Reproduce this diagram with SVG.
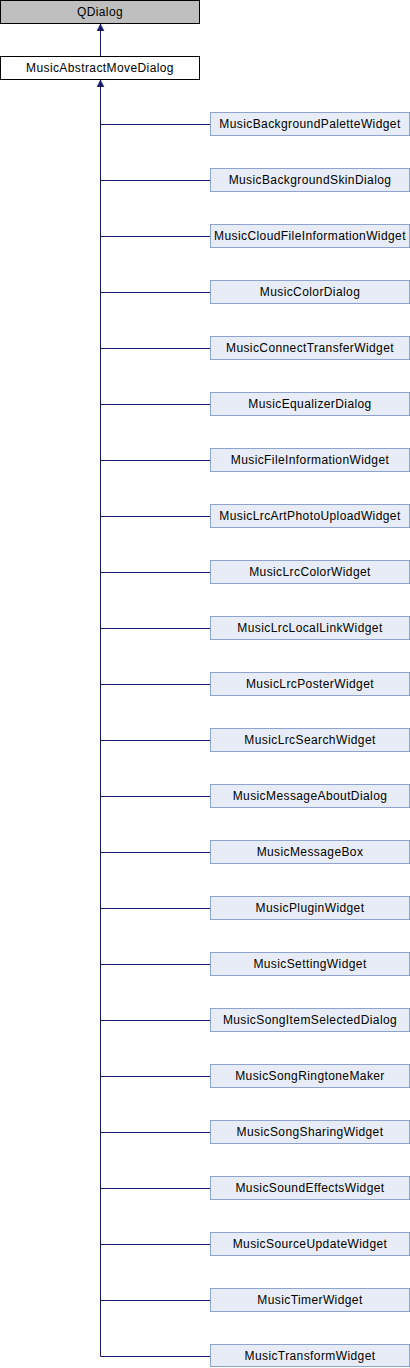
<svg xmlns="http://www.w3.org/2000/svg" width="410" height="1368" viewBox="0 0 410 1368">
<style>
.n rect{stroke-width:1}
.base rect{fill:#bfbfbf;stroke:#000}
.par rect{fill:#fff;stroke:#000}
.ch rect{fill:#e8ecf7;stroke:#8ea4cf}
text{font-family:"Liberation Sans",Arial,sans-serif;font-size:12px;letter-spacing:0.4px;text-anchor:middle;fill:#000}
.e{stroke:#191970;stroke-width:1;fill:none}
</style>
<defs>
<marker id="ah" markerWidth="8" markerHeight="8" refX="7" refY="3.5" orient="auto" markerUnits="userSpaceOnUse">
<path d="M0,0 L7,3.5 L0,7 Z" fill="#191970" stroke="#191970" stroke-width="0.5"/>
</marker>
</defs>
<g id="connectors">
<path class="e" d="M100.5,56 V24" marker-end="url(#ah)"/>
<path class="e" d="M100.5,1356.5 V80" marker-end="url(#ah)"/>
<path class="e" d="M100.5,124.5 H210"/>
<path class="e" d="M100.5,180.5 H210"/>
<path class="e" d="M100.5,236.5 H210"/>
<path class="e" d="M100.5,292.5 H210"/>
<path class="e" d="M100.5,348.5 H210"/>
<path class="e" d="M100.5,404.5 H210"/>
<path class="e" d="M100.5,460.5 H210"/>
<path class="e" d="M100.5,516.5 H210"/>
<path class="e" d="M100.5,572.5 H210"/>
<path class="e" d="M100.5,628.5 H210"/>
<path class="e" d="M100.5,684.5 H210"/>
<path class="e" d="M100.5,740.5 H210"/>
<path class="e" d="M100.5,796.5 H210"/>
<path class="e" d="M100.5,852.5 H210"/>
<path class="e" d="M100.5,908.5 H210"/>
<path class="e" d="M100.5,964.5 H210"/>
<path class="e" d="M100.5,1020.5 H210"/>
<path class="e" d="M100.5,1076.5 H210"/>
<path class="e" d="M100.5,1132.5 H210"/>
<path class="e" d="M100.5,1188.5 H210"/>
<path class="e" d="M100.5,1244.5 H210"/>
<path class="e" d="M100.5,1300.5 H210"/>
<path class="e" d="M100.5,1356.5 H210"/>
</g>
<g id="QDialog" class="n base"><rect x="0.5" y="0.5" width="199" height="23"/><text x="100" y="16">QDialog</text></g>
<g id="MusicAbstractMoveDialog" class="n par"><rect x="0.5" y="56.5" width="199" height="23"/><text x="100" y="72">MusicAbstractMoveDialog</text></g>
<g id="MusicBackgroundPaletteWidget" class="n ch"><rect x="210.5" y="112.5" width="199" height="23"/><text x="310" y="128">MusicBackgroundPaletteWidget</text></g>
<g id="MusicBackgroundSkinDialog" class="n ch"><rect x="210.5" y="168.5" width="199" height="23"/><text x="310" y="184">MusicBackgroundSkinDialog</text></g>
<g id="MusicCloudFileInformationWidget" class="n ch"><rect x="210.5" y="224.5" width="199" height="23"/><text x="310" y="240">MusicCloudFileInformationWidget</text></g>
<g id="MusicColorDialog" class="n ch"><rect x="210.5" y="280.5" width="199" height="23"/><text x="310" y="296">MusicColorDialog</text></g>
<g id="MusicConnectTransferWidget" class="n ch"><rect x="210.5" y="336.5" width="199" height="23"/><text x="310" y="352">MusicConnectTransferWidget</text></g>
<g id="MusicEqualizerDialog" class="n ch"><rect x="210.5" y="392.5" width="199" height="23"/><text x="310" y="408">MusicEqualizerDialog</text></g>
<g id="MusicFileInformationWidget" class="n ch"><rect x="210.5" y="448.5" width="199" height="23"/><text x="310" y="464">MusicFileInformationWidget</text></g>
<g id="MusicLrcArtPhotoUploadWidget" class="n ch"><rect x="210.5" y="504.5" width="199" height="23"/><text x="310" y="520">MusicLrcArtPhotoUploadWidget</text></g>
<g id="MusicLrcColorWidget" class="n ch"><rect x="210.5" y="560.5" width="199" height="23"/><text x="310" y="576">MusicLrcColorWidget</text></g>
<g id="MusicLrcLocalLinkWidget" class="n ch"><rect x="210.5" y="616.5" width="199" height="23"/><text x="310" y="632">MusicLrcLocalLinkWidget</text></g>
<g id="MusicLrcPosterWidget" class="n ch"><rect x="210.5" y="672.5" width="199" height="23"/><text x="310" y="688">MusicLrcPosterWidget</text></g>
<g id="MusicLrcSearchWidget" class="n ch"><rect x="210.5" y="728.5" width="199" height="23"/><text x="310" y="744">MusicLrcSearchWidget</text></g>
<g id="MusicMessageAboutDialog" class="n ch"><rect x="210.5" y="784.5" width="199" height="23"/><text x="310" y="800">MusicMessageAboutDialog</text></g>
<g id="MusicMessageBox" class="n ch"><rect x="210.5" y="840.5" width="199" height="23"/><text x="310" y="856">MusicMessageBox</text></g>
<g id="MusicPluginWidget" class="n ch"><rect x="210.5" y="896.5" width="199" height="23"/><text x="310" y="912">MusicPluginWidget</text></g>
<g id="MusicSettingWidget" class="n ch"><rect x="210.5" y="952.5" width="199" height="23"/><text x="310" y="968">MusicSettingWidget</text></g>
<g id="MusicSongItemSelectedDialog" class="n ch"><rect x="210.5" y="1008.5" width="199" height="23"/><text x="310" y="1024">MusicSongItemSelectedDialog</text></g>
<g id="MusicSongRingtoneMaker" class="n ch"><rect x="210.5" y="1064.5" width="199" height="23"/><text x="310" y="1080">MusicSongRingtoneMaker</text></g>
<g id="MusicSongSharingWidget" class="n ch"><rect x="210.5" y="1120.5" width="199" height="23"/><text x="310" y="1136">MusicSongSharingWidget</text></g>
<g id="MusicSoundEffectsWidget" class="n ch"><rect x="210.5" y="1176.5" width="199" height="23"/><text x="310" y="1192">MusicSoundEffectsWidget</text></g>
<g id="MusicSourceUpdateWidget" class="n ch"><rect x="210.5" y="1232.5" width="199" height="23"/><text x="310" y="1248">MusicSourceUpdateWidget</text></g>
<g id="MusicTimerWidget" class="n ch"><rect x="210.5" y="1288.5" width="199" height="23"/><text x="310" y="1304">MusicTimerWidget</text></g>
<g id="MusicTransformWidget" class="n ch"><rect x="210.5" y="1344.5" width="199" height="22"/><text x="310" y="1360">MusicTransformWidget</text></g>
</svg>
